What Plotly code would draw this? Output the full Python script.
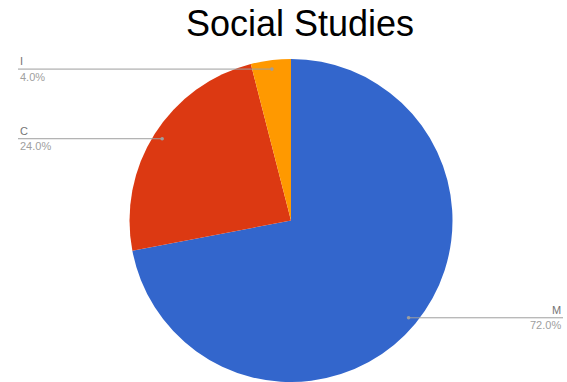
import math
import plotly.graph_objects as go

labels = ["M", "C", "I"]
values = [72, 24, 4]
colors = ["#3366CC", "#DC3912", "#FF9900"]
title_text = "Social Studies"

W, H = 567, 382
cx_px, R_px = 291, 161.5
cy_px = H - R_px

fig = go.Figure(go.Pie(
    labels=labels, values=values, sort=False, direction="clockwise", rotation=0,
    marker=dict(colors=colors, line=dict(width=0)),
    textinfo="none", hoverinfo="skip", showlegend=False,
    domain=dict(x=[(cx_px - R_px) / W, (cx_px + R_px) / W], y=[0, 2 * R_px / H]),
))

def px2paper(x, y):
    return x / W, 1 - y / H

shapes, annots = [], []
total = sum(values)
cum = 0
for lab, v in zip(labels, values):
    mid = (cum + v / 2) / total * 2 * math.pi
    cum += v
    r = 0.945 * R_px
    dx = cx_px + r * math.sin(mid)
    dy = cy_px - r * math.cos(mid)
    right = math.sin(mid) > 0
    end_x = 563 if right else 18
    x0, y0 = px2paper(dx, dy)
    x1, y1 = px2paper(end_x, dy)
    shapes.append(dict(type="line", xref="paper", yref="paper", x0=x0, y0=y0, x1=x1, y1=y1,
                       line=dict(color="#9e9e9e", width=1)))
    shapes.append(dict(type="circle", xref="paper", yref="paper",
                       x0=(dx - 1.8) / W, x1=(dx + 1.8) / W,
                       y0=1 - (dy + 1.8) / H, y1=1 - (dy - 1.8) / H,
                       fillcolor="#9e9e9e", line=dict(width=0)))
    anchor = "right" if right else "left"
    annots.append(dict(xref="paper", yref="paper", x=x1, y=1 - (dy - 8) / H, text=lab,
                       showarrow=False, xanchor=anchor, yanchor="middle",
                       font=dict(family="Liberation Sans, Arial", size=11, color="#757575")))
    annots.append(dict(xref="paper", yref="paper", x=x1, y=1 - (dy + 7.5) / H,
                       text=f"{v / total * 100:.1f}%",
                       showarrow=False, xanchor=anchor, yanchor="middle",
                       font=dict(family="Liberation Sans, Arial", size=11, color="#a0a0a0")))

fig.update_layout(
    width=W, height=H, margin=dict(l=0, r=0, t=0, b=0),
    paper_bgcolor="white", plot_bgcolor="white",
    title=dict(text=title_text, x=300 / W, xanchor="center", y=1 - 23 / H, yanchor="middle",
               yref="container", font=dict(family="Liberation Sans, Arial", size=36, color="#000000")),
    shapes=shapes, annotations=annots,
)
fig.write_html("out.html", config={"displayModeBar": False},
               post_script="document.body.style.margin='0';document.body.style.overflow='hidden';")
